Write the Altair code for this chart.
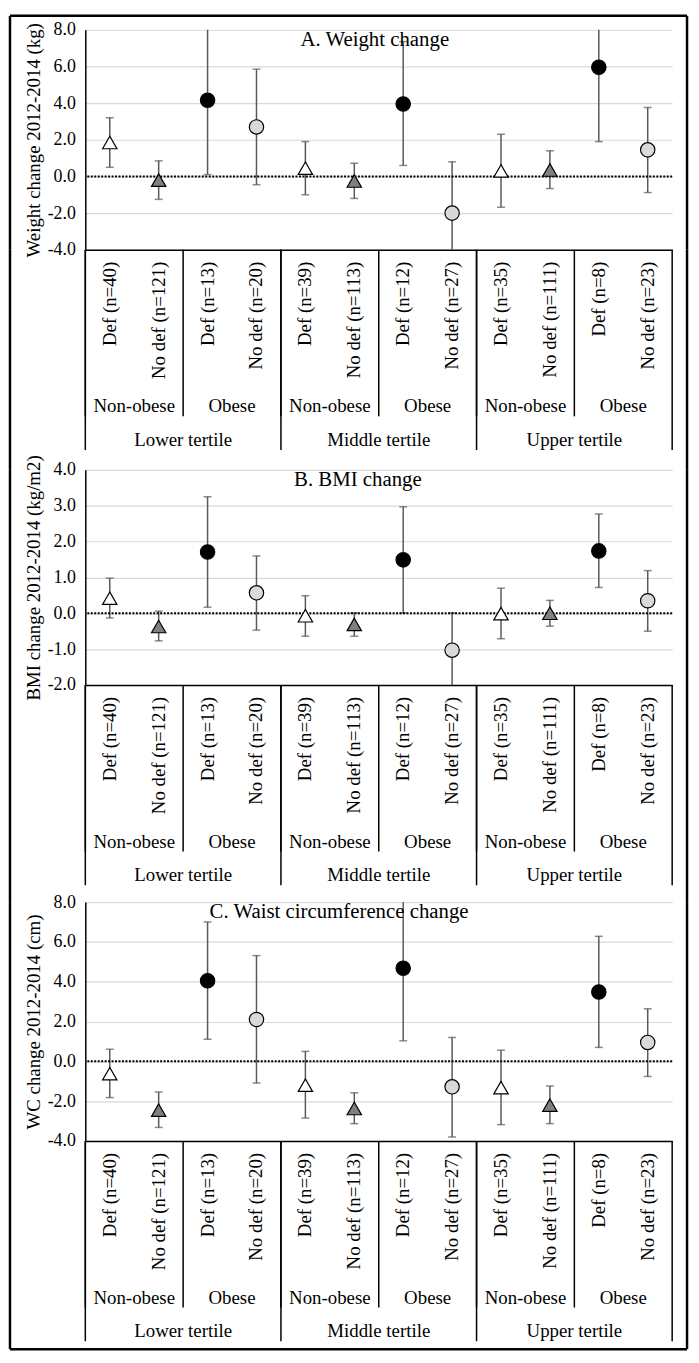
import altair as alt
import pandas as pd

# ---------------- data ----------------
cat_labels = ["Def (n=40)", "No def (n=121)", "Def (n=13)", "No def (n=20)",
              "Def (n=39)", "No def (n=113)", "Def (n=12)", "No def (n=27)",
              "Def (n=35)", "No def (n=111)", "Def (n=8)", "No def (n=23)"]
cat_status = ["Def", "No def"] * 6
cat_obesity = ["Non-obese", "Non-obese", "Obese", "Obese"] * 3
cat_tertile = ["Lower tertile"] * 4 + ["Middle tertile"] * 4 + ["Upper tertile"] * 4

weight_mean = [1.85, -0.2, 4.15, 2.7, 0.45, -0.25, 3.95, -2.0, 0.3, 0.35, 5.95, 1.45]
weight_lo = [0.5, -1.25, 0.1, -0.45, -1.0, -1.2, 0.6, -4.8, -1.68, -0.66, 1.9, -0.88]
weight_hi = [3.2, 0.85, 8.2, 5.85, 1.9, 0.72, 7.35, 0.8, 2.3, 1.4, 10.0, 3.76]

bmi_mean = [0.42, -0.37, 1.71, 0.57, -0.07, -0.31, 1.49, -1.03, -0.01, 0.0, 1.74, 0.35]
bmi_lo = [-0.13, -0.77, 0.17, -0.47, -0.64, -0.64, 0.01, -2.07, -0.71, -0.36, 0.72, -0.5]
bmi_hi = [0.98, 0.06, 3.25, 1.6, 0.49, 0.01, 2.97, 0.01, 0.7, 0.36, 2.77, 1.19]

wc_mean = [-0.62, -2.45, 4.05, 2.1, -1.2, -2.37, 4.68, -1.28, -1.32, -2.2, 3.48, 0.95]
wc_lo = [-1.82, -3.32, 1.11, -1.09, -2.85, -3.13, 1.03, -3.8, -3.18, -3.13, 0.7, -0.76]
wc_hi = [0.61, -1.54, 7.0, 5.31, 0.5, -1.58, 8.33, 1.2, 0.56, -1.24, 6.28, 2.64]

weight_ticks = [-4, -2, 0, 2, 4, 6, 8]
bmi_ticks = [-2, -1, 0, 1, 2, 3, 4]
wc_ticks = [-4, -2, 0, 2, 4, 6, 8]

series_domain = ["Def / Non-obese", "No def / Non-obese", "Def / Obese", "No def / Obese"]
series_shape = ["triangle-up", "triangle-up", "circle", "circle"]
series_fill = ["#ffffff", "#7f7f7f", "#000000", "#d9d9d9"]

# ---------------- styling ----------------
FONT = "Liberation Serif"
W = 592
ERR = "#595959"
N = len(cat_labels)

cats = pd.DataFrame({"label": cat_labels, "status": cat_status,
                     "obesity": cat_obesity, "tertile": cat_tertile})
cats["start"] = cats.index.astype(float)
cats["pos"] = cats["start"] + 0.5
cats["series"] = cats["status"] + " / " + cats["obesity"]

g2 = (cats.groupby(["tertile", "obesity"], sort=False)
      .agg(pos=("pos", "mean"), start=("start", "min")).reset_index())
g3 = (cats.groupby("tertile", sort=False)
      .agg(pos=("pos", "mean"), start=("start", "min")).reset_index())
edges3 = pd.DataFrame({"start": list(g3["start"]) + [float(N)]})

xscale = alt.Scale(domain=[0, N])
one = pd.DataFrame({"v": [0]})


def frame_lines(top, bottom, with_top=False, with_bottom=False):
    layers = [
        alt.Chart(one).mark_rule(color="black", strokeWidth=2.5).encode(
            x=alt.value(-76), y=alt.value(top), y2=alt.value(bottom)),
        alt.Chart(one).mark_rule(color="black", strokeWidth=2.5).encode(
            x=alt.value(W + 15), y=alt.value(top), y2=alt.value(bottom)),
    ]
    if with_top:
        layers.append(alt.Chart(one).mark_rule(color="black", strokeWidth=2.5).encode(
            x=alt.value(-76), x2=alt.value(W + 15), y=alt.value(top)))
    if with_bottom:
        layers.append(alt.Chart(one).mark_rule(color="black", strokeWidth=2.5).encode(
            x=alt.value(-76), x2=alt.value(W + 15), y=alt.value(bottom)))
    return layers


def plot_panel(mean, lo, hi, ticks, ytitle, ptitle, h, title_dx, first=False):
    df = cats.copy()
    df["mean"] = mean
    df["lo"] = lo
    df["hi"] = hi
    ymin, ymax = ticks[0], ticks[-1]
    xs = alt.X("pos:Q", scale=xscale,
               axis=alt.Axis(labels=False, ticks=False, grid=False, title=None,
                             domainColor="black", domainWidth=1.5))
    ysc = alt.Scale(domain=[ymin, ymax], nice=False, zero=False)
    yax = alt.Axis(values=ticks, tickCount=len(ticks), title=ytitle, grid=True,
                   labelExpr="replace(format(datum.value, '.1f'), '\u2212', '-')")
    base = alt.Chart(df)
    err = base.mark_rule(color=ERR, strokeWidth=1.5, clip=True).encode(
        x=xs, y=alt.Y("lo:Q", scale=ysc, axis=yax), y2="hi:Q")
    cap_lo = base.transform_filter(alt.datum.lo >= ymin).mark_tick(
        orient="horizontal", size=8, thickness=1.5, color=ERR).encode(
        x=xs, y=alt.Y("lo:Q", scale=ysc, axis=yax))
    cap_hi = base.transform_filter(alt.datum.hi <= ymax).mark_tick(
        orient="horizontal", size=8, thickness=1.5, color=ERR).encode(
        x=xs, y=alt.Y("hi:Q", scale=ysc, axis=yax))
    zero = alt.Chart(one).mark_rule(color="black", strokeDash=[2, 1.5], strokeWidth=2).encode(
        y=alt.Y("v:Q", scale=ysc, axis=yax))
    pts = base.mark_point(filled=True, opacity=1, stroke="black", strokeWidth=1.2, size=210).encode(
        x=xs, y=alt.Y("mean:Q", scale=ysc, axis=yax),
        shape=alt.Shape("series:N", scale=alt.Scale(domain=series_domain, range=series_shape), legend=None),
        fill=alt.Fill("series:N", scale=alt.Scale(domain=series_domain, range=series_fill), legend=None))
    ttl = alt.Chart(one).mark_text(font=FONT, fontSize=21, color="black",
                                   align="center", baseline="alphabetic").encode(
        x=alt.value(W / 2 + title_dx), y=alt.value(16), text=alt.value(ptitle))
    top = -14 if first else 0
    layers = [err, cap_lo, cap_hi, zero, pts, ttl] + frame_lines(top, h, with_top=first)
    return alt.layer(*layers).properties(width=W, height=h)


def table_panel(h, last=False):
    xs = alt.X("pos:Q", scale=xscale, axis=None)
    xstart = alt.X("start:Q", scale=xscale, axis=None)
    rot = alt.Chart(cats).mark_text(angle=270, align="right", baseline="middle",
                                    font=FONT, fontSize=19, color="black").encode(
        x=xs, y=alt.value(12), text="label:N")
    t2 = alt.Chart(g2).mark_text(baseline="middle", font=FONT, fontSize=19, color="black").encode(
        x=xs, y=alt.value(158), text="obesity:N")
    t3 = alt.Chart(g3).mark_text(baseline="middle", font=FONT, fontSize=19, color="black").encode(
        x=xs, y=alt.value(192), text="tertile:N")
    d2 = alt.Chart(g2).mark_rule(color="black", strokeWidth=1.5).encode(
        x=xstart, y=alt.value(0), y2=alt.value(168))
    d3 = alt.Chart(edges3).mark_rule(color="black", strokeWidth=1.5).encode(
        x=xstart, y=alt.value(0), y2=alt.value(202))
    bottom = h - 1 if last else h
    layers = [d2, d3, rot, t2, t3] + frame_lines(0, bottom, with_bottom=last)
    return alt.layer(*layers).properties(width=W, height=h)


pA = plot_panel(weight_mean, weight_lo, weight_hi, weight_ticks,
                "Weight change 2012-2014 (kg)", "A. Weight change", 222, -4, first=True)
tA = table_panel(222)
pB = plot_panel(bmi_mean, bmi_lo, bmi_hi, bmi_ticks,
                "BMI change 2012-2014 (kg/m2)", "B. BMI change", 217, -21)
tB = table_panel(219)
pC = plot_panel(wc_mean, wc_lo, wc_hi, wc_ticks,
                "WC change 2012-2014 (cm)", "C. Waist circumference change", 241, -40)
tC = table_panel(211, last=True)

chart = alt.vconcat(pA, tA, pB, tB, pC, tC, spacing=0, bounds="flush").properties(
    padding={"left": 0, "right": 2, "top": 0, "bottom": 0}
).configure_view(stroke=None).configure_axis(
    labelFont=FONT, labelFontSize=18, labelColor="black",
    titleFont=FONT, titleFontSize=19, titleFontWeight="normal", titleColor="black",
    gridColor="#d9d9d9", gridWidth=1.2, ticks=False,
    domainColor="black", domainWidth=1.5, labelPadding=10, titlePadding=4)

chart.save("out.html", embed_options={"renderer": "svg", "actions": False})
